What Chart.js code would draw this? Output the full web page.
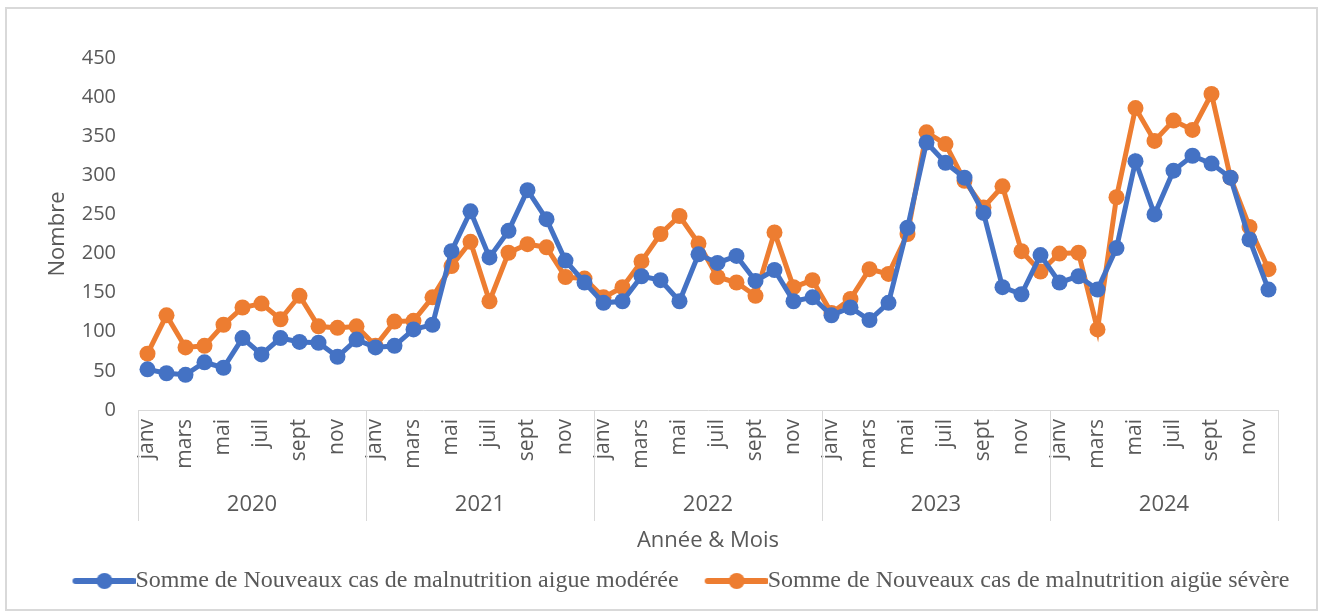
<!DOCTYPE html>
<html>
<head>
<meta charset="utf-8">
<script src="https://cdn.jsdelivr.net/npm/chart.js@4.4.1/dist/chart.umd.min.js"></script>
<style>
  body { margin: 0; background: #fff; }
  #wrap { position: absolute; left: 5px; top: 7px; width: 1313px; height: 604px; border: 2px solid #d9d9d9; box-sizing: border-box; }
</style>
</head>
<body>
<div id="wrap"><canvas id="malChart"></canvas></div>
<script>
var years = ['2020', '2021', '2022', '2023', '2024'];
var months = ['janv', 'févr', 'mars', 'avr', 'mai', 'juin', 'juil', 'août', 'sept', 'oct', 'nov', 'déc'];

// Somme de Nouveaux cas de malnutrition aigue modérée
var moderee = [
  52, 47, 45, 61, 54, 92, 71, 92, 87, 86, 68, 90,
  80, 82, 103, 109, 203, 254, 195, 229, 281, 244, 191, 163,
  137, 139, 171, 166, 139, 199, 188, 197, 165, 179, 139, 144,
  121, 131, 115, 137, 233, 342, 316, 297, 252, 157, 148, 198,
  163, 171, 154, 207, 318, 250, 306, 325, 315, 297, 218, 154
];
// Somme de Nouveaux cas de malnutrition aigüe sévère
var severe = [
  72, 121, 80, 82, 109, 131, 136, 116, 146, 107, 105, 107,
  82, 113, 114, 144, 184, 215, 139, 201, 212, 208, 170, 168,
  144, 157, 190, 225, 248, 213, 170, 163, 146, 227, 157, 166,
  124, 142, 180, 174, 225, 355, 340, 293, 259, 286, 203, 177,
  200, 201, 103, 272, 386, 344, 370, 358, 404, 297, 234, 180
];
var yTicks = [0, 50, 100, 150, 200, 250, 300, 350, 400, 450];

var labels = [];
years.forEach(function(y) {
  months.forEach(function(m) { labels.push(m); });
});

var blue = '#4472C4', orange = '#ED7D31', grey = '#595959', line = '#d9d9d9';

// legend marker: short line with a dot in the middle
function marker(color) {
  var c = document.createElement('canvas');
  c.width = 86; c.height = 20;
  var g = c.getContext('2d');
  g.strokeStyle = color; g.lineWidth = 6; g.lineCap = 'round';
  g.beginPath(); g.moveTo(26, 10); g.lineTo(84, 10); g.stroke();
  g.fillStyle = color;
  g.beginPath(); g.arc(55, 10, 8, 0, Math.PI * 2); g.fill();
  return c;
}

// second level of the category axis: years + separators
var yearAxis = {
  id: 'yearAxis',
  afterLayout: function(chart) {
    // legend sits a bit right of centre in the original
    chart.legend.left += 33;
    chart.legend.right += 33;
  },
  afterDraw: function(chart) {
    var x = chart.scales.x, ctx = chart.ctx;
    ctx.save();
    ctx.strokeStyle = line; ctx.lineWidth = 1;
    for (var i = 0; i <= years.length; i++) {
      var px = Math.round(x.getPixelForValue(i * 12 - 0.5)) + 0.5;
      ctx.beginPath(); ctx.moveTo(px, x.top); ctx.lineTo(px, x.top + 111); ctx.stroke();
    }
    ctx.fillStyle = grey;
    ctx.font = '22px "Open Sans"';
    ctx.textAlign = 'center'; ctx.textBaseline = 'middle';
    years.forEach(function(y, i) {
      ctx.fillText(y, x.getPixelForValue(i * 12 + 5.5), x.top + 95);
    });
    ctx.restore();
  }
};

var ctx = document.getElementById('malChart').getContext('2d');
var myChart = new Chart(ctx, {
  type: 'line',
  data: {
    labels: labels,
    datasets: [{
      label: 'Somme de Nouveaux cas de malnutrition aigue modérée',
      data: moderee,
      borderColor: blue,
      backgroundColor: blue,
      borderWidth: 5,
      pointRadius: 8,
      pointHoverRadius: 8,
      pointBorderWidth: 0,
      tension: 0
    }, {
      label: 'Somme de Nouveaux cas de malnutrition aigüe sévère',
      data: severe,
      borderColor: orange,
      backgroundColor: orange,
      borderWidth: 5,
      pointRadius: 8,
      pointHoverRadius: 8,
      pointBorderWidth: 0,
      tension: 0
    }]
  },
  options: {
    responsive: true,
    maintainAspectRatio: false,
    animation: false,
    layout: { padding: { top: 49, right: 38, bottom: 6, left: 0 } },
    plugins: {
      tooltip: { enabled: false },
      legend: {
        position: 'bottom',
        labels: {
          usePointStyle: true,
          pointStyleWidth: 62,
          padding: 15,
          color: grey,
          font: { family: '"Liberation Serif", serif', size: 24 },
          generateLabels: function(chart) {
            var items = Chart.defaults.plugins.legend.labels.generateLabels(chart);
            items.forEach(function(it, i) {
              it.pointStyle = marker(i === 0 ? blue : orange);
            });
            return items;
          }
        }
      }
    },
    scales: {
      x: {
        offset: true,
        grid: { display: false, drawTicks: false },
        border: { display: true, color: line, width: 1 },
        ticks: {
          autoSkip: false,
          maxRotation: 90,
          minRotation: 90,
          padding: 9,
          color: grey,
          font: { family: '"Open Sans"', size: 21 },
          callback: function(v, i) { return i % 2 === 0 ? labels[i] : ''; }
        },
        title: {
          display: true,
          text: 'Année & Mois',
          color: grey,
          font: { family: '"Open Sans"', size: 22 },
          padding: 0
        },
        afterFit: function(scale) { scale.height = 144; }
      },
      y: {
        min: 0,
        max: 450,
        grid: { display: false, drawTicks: false },
        border: { display: false },
        afterBuildTicks: function(scale) {
          scale.ticks = yTicks.map(function(v) { return { value: v }; });
        },
        ticks: {
          padding: 22,
          color: grey,
          font: { family: '"Open Sans"', size: 20 }
        },
        title: {
          display: true,
          text: 'Nombre',
          color: grey,
          font: { family: '"Open Sans"', size: 22 },
          padding: { top: 38, bottom: 0 }
        },
        afterFit: function(scale) { scale.width = 131; }
      }
    }
  },
  plugins: [yearAxis]
});
</script>
</body>
</html>
